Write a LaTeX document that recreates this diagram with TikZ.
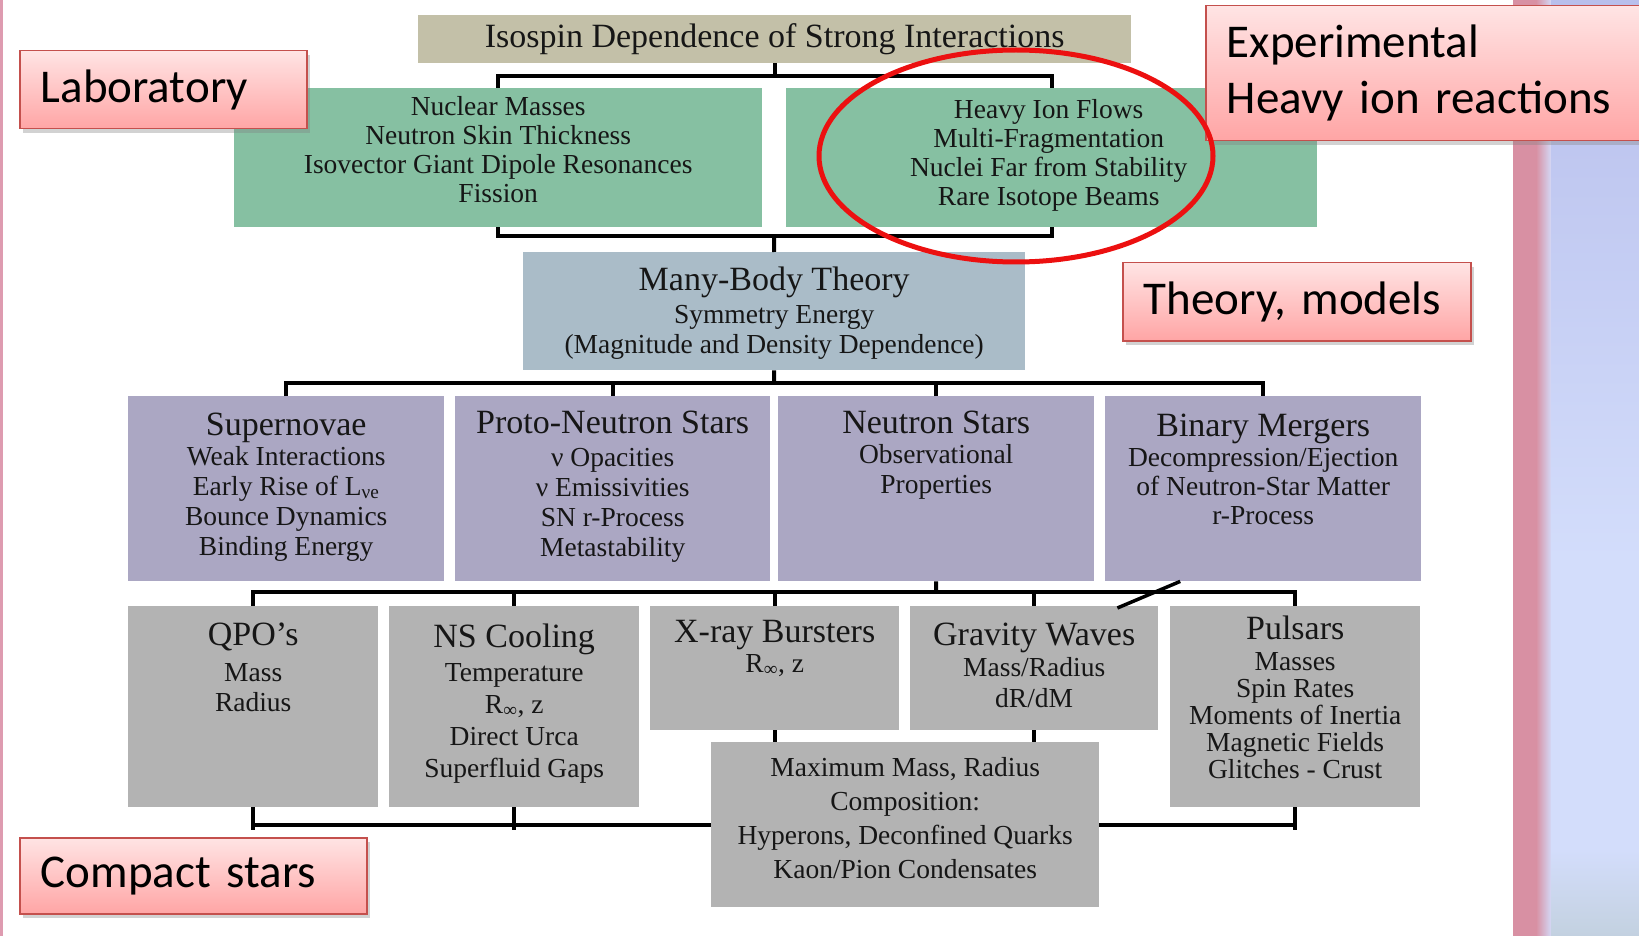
\documentclass[tikz,border=0pt]{standalone}
\usepackage{fontspec}
\setmainfont{Liberation Serif}
\newfontfamily\calibri{Carlito}
\usetikzlibrary{positioning,shadows}

\definecolor{titlefill}{HTML}{C3C0A8}
\definecolor{labfill}{HTML}{86C0A2}
\definecolor{theofill}{HTML}{AABCC8}
\definecolor{astrofill}{HTML}{ABA7C3}
\definecolor{obsfill}{HTML}{B3B3B3}
\definecolor{inkc}{HTML}{161616}
\definecolor{notetop}{HTML}{FFE4E4}
\definecolor{notebot}{HTML}{FFA5A5}
\definecolor{noteline}{HTML}{C4504D}
\definecolor{ringred}{HTML}{EC1010}
\definecolor{edgepink}{HTML}{DE9BB0}
\definecolor{stripepink}{HTML}{D890A3}
\definecolor{lavtop}{HTML}{B8BFEC}
\definecolor{lavmid}{HTML}{D3DDFB}
\definecolor{lavbot}{HTML}{C3D1E0}

\newcommand\hd[1]{{\fontsize{34}{34}\selectfont #1}}

\tikzset{
  box/.style={rectangle, inner sep=0pt, anchor=north west},
  labbox/.style={box, fill=labfill},
  theobox/.style={box, fill=theofill},
  astrobox/.style={box, fill=astrofill},
  obsbox/.style={box, fill=obsfill},
  txt/.style={anchor=base, align=center, inner sep=0pt, text=inkc,
    font=\fontsize{27.5}{#1}\selectfont},
  txt/.default=30,
  link/.style={line width=4pt, line join=miter},
  note/.style={rectangle, anchor=north west, draw=noteline, line width=1.5pt,
    top color=notetop, bottom color=notebot, inner xsep=21pt, align=left,
    font=\calibri\fontsize{47}{56}\selectfont,
    drop shadow={shadow xshift=3pt, shadow yshift=-4pt, opacity=.35}},
}

\begin{document}
\begin{tikzpicture}[x=1pt,y=-1pt]
\fill[white] (0,0) rectangle (1639,936);
\useasboundingbox (0,0) rectangle (1639,936);

% slide edges
\fill[edgepink] (0,0) rectangle (3,936);
\fill[stripepink] (1513,0) rectangle (1538,936);
\shade[left color=stripepink, right color=lavmid] (1536,0) rectangle (1552,936);
\shade[top color=lavtop, bottom color=lavmid] (1551,0) rectangle (1639,560);
\fill[lavmid] (1551,559) rectangle (1639,851);
\shade[top color=lavmid, bottom color=lavbot] (1551,850) rectangle (1639,936);

% boxes
\node[box, fill=titlefill, minimum width=713pt, minimum height=48pt, text=inkc,
  font=\fontsize{34}{34}\selectfont] (title) at (418,15)
  {Isospin Dependence of Strong Interactions};
\node[labbox, minimum width=528pt, minimum height=139pt] (lab) at (234,88) {};
\node[labbox, minimum width=531pt, minimum height=139pt] (hif) at (786,88) {};
\node[theobox, minimum width=502pt, minimum height=118pt] (mbt) at (523,252) {};
\node[astrobox, minimum width=316pt, minimum height=185pt] (sn) at (128,396) {};
\node[astrobox, minimum width=315pt, minimum height=185pt] (pns) at (455,396) {};
\node[astrobox, minimum width=316pt, minimum height=185pt] (ns) at (778,396) {};
\node[astrobox, minimum width=316pt, minimum height=185pt] (bm) at (1105,396) {};
\node[obsbox, minimum width=250pt, minimum height=201pt] (qpo) at (128,606) {};
\node[obsbox, minimum width=250pt, minimum height=201pt] (nsc) at (389,606) {};
\node[obsbox, minimum width=249pt, minimum height=124pt] (xrb) at (650,606) {};
\node[obsbox, minimum width=248pt, minimum height=124pt] (gw) at (910,606) {};
\node[obsbox, minimum width=250pt, minimum height=201pt] (psr) at (1170,606) {};
\node[obsbox, minimum width=388pt, minimum height=165pt] (mm) at (711,742) {};

% connectors
\coordinate (topbus) at (774,76);
\coordinate (midbus) at (774,236);
\coordinate (astrobus) at (774,383);
\coordinate (obsbus) at (936,592);
\draw[link] (title.south) -- (title.south |- topbus);
\draw[link] (lab.north) |- (topbus) -| (hif.north);
\draw[link] (lab.south) |- (midbus) -| (hif.south);
\draw[link] (midbus) -- (mbt.north);
\draw[link] (mbt.south) -- (astrobus);
\draw[link] (sn.north) |- (astrobus) -| (bm.north);
\draw[link] (pns.north) -- (pns.north |- astrobus);
\draw[link] (ns.north) -- (ns.north |- astrobus);
\draw[link] (ns.south) -- (obsbus);
\draw[link] (qpo.north) |- (obsbus) -| (psr.north);
\draw[link] (nsc.north) -- (nsc.north |- obsbus);
\draw[link] (xrb.north) -- (xrb.north |- obsbus);
\draw[link] (gw.north) -- (gw.north |- obsbus);
\draw[link, line width=3.5pt] ([xshift=-83pt]bm.south) -- ([xshift=-41pt,yshift=-2pt]gw.north east);
\draw[link] (xrb.south) -- (xrb.south |- mm.north);
\draw[link] (gw.south) -- (gw.south |- mm.north);
\draw[link] (qpo.south) |- (mm.west);
\draw[link] (psr.south) |- (mm.east);
\draw[link] (qpo.south) -- ([yshift=-5pt]qpo.south |- mm.west);
\draw[link] (nsc.south) -- ([yshift=-5pt]nsc.south |- mm.west);
\draw[link] (psr.south) -- ([yshift=-5pt]psr.south |- mm.east);

% texts (base = last line)
\node[txt=29] (labtx) at ([yshift=-115pt]lab.north)
  {Nuclear Masses\\Neutron Skin Thickness\\Isovector Giant Dipole Resonances\\Fission};
\node[txt=29.3] (hiftx) at ([xshift=-3pt,yshift=-118pt]hif.north)
  {Heavy Ion Flows\\Multi-Fragmentation\\Nuclei Far from Stability\\Rare Isotope Beams};
\node[txt=30] (mbttx) at ([yshift=-101pt]mbt.north)
  {\hd{Many-Body Theory}\\[3pt]Symmetry Energy\\(Magnitude and Density Dependence)};
\node[txt=30] (sntx) at ([yshift=-159pt]sn.north)
  {\hd{Supernovae}\\Weak Interactions\\Early Rise of L\textsubscript{νe}\\Bounce Dynamics\\Binding Energy};
\node[txt=30] (pnstx) at ([yshift=-160pt]pns.north)
  {\hd{Proto-Neutron Stars}\\[3pt]ν Opacities\\ν Emissivities\\SN r-Process\\Metastability};
\node[txt=30] (nstx) at ([yshift=-97pt]ns.north)
  {\hd{Neutron Stars}\\Observational\\Properties};
\node[txt=29] (bmtx) at ([yshift=-128pt]bm.north)
  {\hd{Binary Mergers}\\[1pt]Decompression/Ejection\\of Neutron-Star Matter\\r-Process};
\node[txt=30] (qpotx) at ([yshift=-105pt]qpo.north)
  {\hd{QPO’s}\\[6pt]Mass\\Radius};
\node[txt=32] (nsctx) at ([yshift=-171pt]nsc.north)
  {\hd{NS Cooling}\\[2pt]Temperature\\R\textsubscript{∞}, z\\Direct Urca\\Superfluid Gaps};
\node[txt=30] (xrbtx) at ([yshift=-66pt]xrb.north)
  {\hd{X-ray Bursters}\\R\textsubscript{∞}, z};
\node[txt=31] (gwtx) at ([yshift=-101pt]gw.north)
  {\hd{Gravity Waves}\\Mass/Radius\\dR/dM};
\node[txt=27] (psrtx) at ([yshift=-172pt]psr.north)
  {\hd{Pulsars}\\[4pt]Masses\\Spin Rates\\Moments of Inertia\\Magnetic Fields\\Glitches - Crust};
\node[txt=34] (mmtx) at ([yshift=-136pt]mm.north)
  {Maximum Mass, Radius\\Composition:\\Hyperons, Deconfined Quarks\\Kaon/Pion Condensates};

% callouts
\node[note, text width=245pt, minimum height=78pt] (labnote) at (19,50) {Laboratory};
\node[note, text width=413pt, minimum height=135pt] (expnote) at (1205,5)
  {Experimental\\Heavy ion reactions};
\node[note, text width=306pt, minimum height=78pt] (theonote) at (1122,262) {Theory, models};
\node[note, text width=305pt, minimum height=76pt] (cmpnote) at (19,837) {Compact stars};

\draw[ringred, line width=5pt] (1016,156) ellipse [x radius=197pt, y radius=106pt];
\end{tikzpicture}
\end{document}
